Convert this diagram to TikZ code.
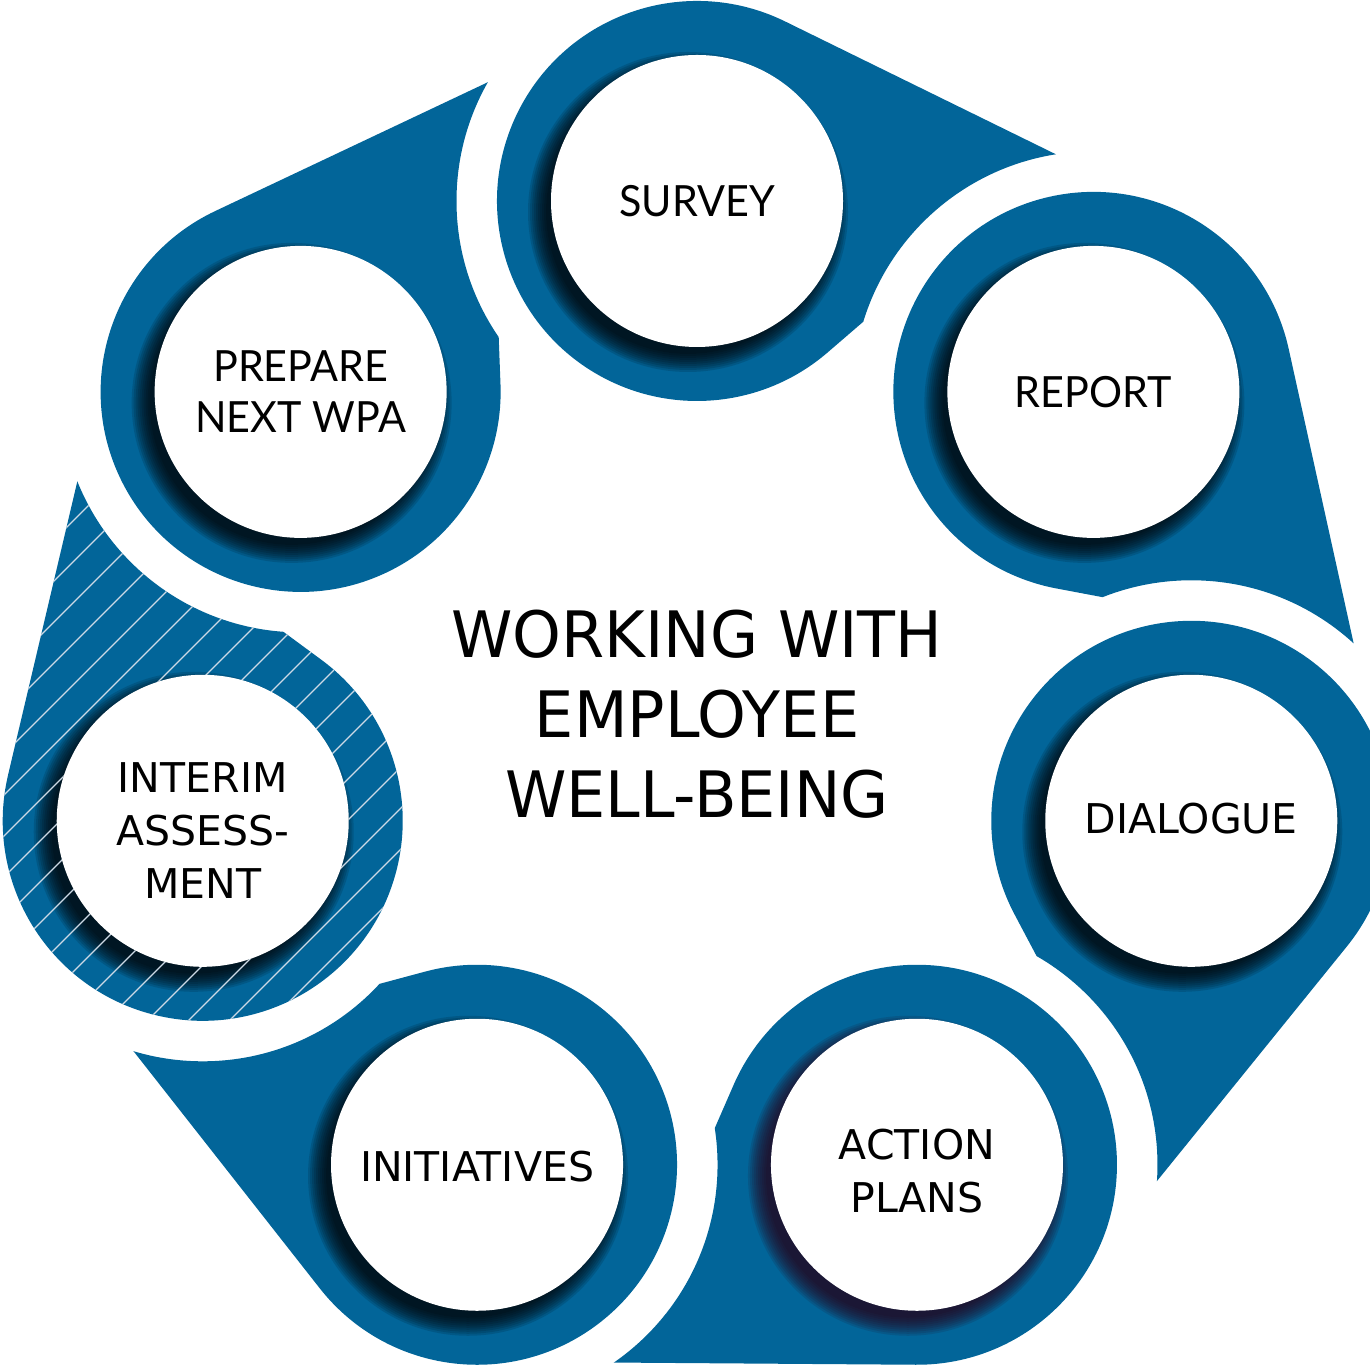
\documentclass[tikz,border=0pt]{standalone}
\usepackage{fontspec}
\setmainfont{DejaVu Sans}
\newfontfamily\titlefont{DejaVu Sans}[FakeStretch=0.97]
\newfontfamily\latofont{Lato}[FakeStretch=0.96]
\definecolor{wpablue}{RGB}{2,101,153}
\definecolor{hatchgray}{RGB}{205,218,230}
\definecolor{shadowred}{RGB}{40,2,24}

\begin{document}
\begin{tikzpicture}[x=1pt,y=1pt,
    disc/.style={circle,fill=white,minimum size=292pt,inner sep=0pt},
    softshade/.style={fill=black,opacity=0.13},
    tahtxt/.style={align=center,font=\fontsize{41}{53}\selectfont},
    latotxt/.style={align=center,font=\latofont\fontsize{43}{51}\selectfont}]
  \useasboundingbox (0,0) rectangle (1370,1370);
  \clip (0,0) rectangle (1370,1370);

  % centres on the big circle and the tips, clockwise from the top
  \foreach \k in {0,...,6}{
    \path (697,662) ++({90-\k*360/7}:507) coordinate (c\k);
    \path (c\k) ++({90-\k*360/7-82.7}:363) coordinate (t\k);
  }

  % drops, each tip cut back by the next ring
  \foreach \k in {0,...,6}{
    \pgfmathtruncatemacro\nxt{mod(\k+1,7)}
    \pgfmathsetmacro\tipang{90-\k*360/7-82.7}
    \begin{scope}[even odd rule]
      \clip (-20,-20) rectangle (1390,1390) (c\nxt) circle[radius=240.5];
      \fill[wpablue] (c\k) ++({\tipang+56.56}:200) arc[start angle={\tipang+56.56}, delta angle=246.88, radius=200] -- (t\k) -- cycle;
    \end{scope}
  }

  % soft shadows to the lower left of the discs
  \foreach \k in {0,1,2,4,5,6}
    \foreach \i in {1,...,10}
      \fill[softshade] (c\k) ++(-9,-11) circle[radius=140+2*\i];
  \foreach \i in {1,...,10}
    \fill[softshade, fill=shadowred] (c3) ++(-9,-11) circle[radius=140+2*\i];

  % hatching on the interim drop
  \begin{scope}[even odd rule]
    \clip (-20,-20) rectangle (1390,1390) (c6) circle[radius=240.5];
    \pgfmathsetmacro\tipang{90-5*360/7-82.7}
    \clip (c5) ++({\tipang+56.56}:200) arc[start angle={\tipang+56.56}, delta angle=246.88, radius=200] -- (t5) -- cycle
      (c5) circle[radius=146];
    \foreach \b in {-940,-899,...,100}
      \draw[hatchgray, line width=1.2pt] (\b,0) -- ++(1000,1000);
  \end{scope}

  % white discs
  \foreach \k/\nm in {0/survey,1/report,2/dialogue,3/action,4/initiatives,5/interim,6/prepare}
    \node[disc] (\nm) at (c\k) {};

  \node[latotxt] (surveytxt) at (survey.center) {SURVEY};
  \node[latotxt] (reporttxt) at (report.center) {REPORT};
  \node[tahtxt] (dialoguetxt) at ([yshift=2pt]dialogue.center) {DIALOGUE};
  \node[tahtxt] (actiontxt) at ([yshift=-6pt]action.center) {ACTION\\PLANS};
  \node[tahtxt] (initiativestxt) at ([yshift=-2pt]initiatives.center) {INITIATIVES};
  \node[tahtxt] (interimtxt) at ([yshift=-10pt]interim.center) {INTERIM\\ASSESS-\\MENT};
  \node[latotxt] (preparetxt) at (prepare.center) {PREPARE\\NEXT WPA};

  \node[font=\titlefont\fontsize{64}{80}\selectfont, align=center] (title) at (697,656) {WORKING WITH\\EMPLOYEE\\WELL-BEING};
\end{tikzpicture}
\end{document}
